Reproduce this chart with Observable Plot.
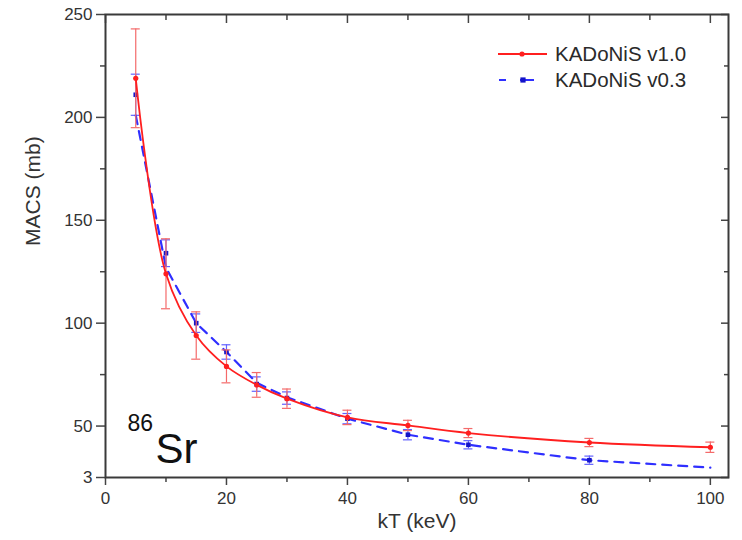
<!DOCTYPE html>
<html><head><meta charset="utf-8">
<script src="https://cdn.jsdelivr.net/npm/d3@7"></script>
<script src="https://cdn.jsdelivr.net/npm/@observablehq/plot@0.6"></script>
<style>
html,body{margin:0;padding:0;background:#fff;}
#wrap{position:relative;width:742px;height:540px;font-family:"Liberation Sans",Arial,sans-serif;}
#legend{position:absolute;left:0;top:0;pointer-events:none;}
</style></head>
<body><div id="wrap"></div>
<script>
// ---- data ----
const kT = [5, 10, 15, 20, 25, 30, 40, 50, 60, 80, 100];
const macsV10 = [219, 124, 94, 79, 70, 63.3, 54.2, 50.3, 46.6, 42, 39.7];
const errV10  = [24, 17, 11.5, 8, 6, 4.7, 3.5, 2.5, 2.2, 2, 2.5];
const macsV03 = [211, 134, 100, 86, 70.4, 63.6, 53.6, 45.8, 40.9, 33.4, null];
const errV03  = [10, 6.5, 4.5, 3.5, 3.5, 3, 2.5, 2.5, 2, 2, null];
const lineV03 = [201, 127, 100, 86, 71, 64, 53.6, 45.8, 40.9, 33.4, 29.8];
const seriesNames = ["KADoNiS v1.0", "KADoNiS v0.3"];
const xMajorTicks = [0, 20, 40, 60, 80, 100];
const xMinorTicks = [10, 30, 50, 70, 90];
const yMajorTicks = [25, 50, 100, 150, 200, 250];
const yMajorLabels = ["3", "50", "100", "150", "200", "250"];
const yMinorTicks = [75, 125, 175, 225];
const xTitle = "kT (keV)";
const yTitle = "MACS (mb)";
const isotopeMass = "86";
const isotopeSymbol = "Sr";

// ---- build ----
const red = "#ff1f1f", redErr = "#f46a6a";
const blue = "#2f2fff", blueMark = "#1414c8", blueErr = "#6262ff";
const v10 = kT.map((x, i) => ({kT: x, v: macsV10[i], e: errV10[i]}));
const v03 = kT.map((x, i) => ({kT: x, v: macsV03[i], e: errV03[i]})).filter(d => d.v != null && d.e != null);
const v03line = kT.map((x, i) => ({kT: x, v: lineV03[i]}));
const yLab = new Map(yMajorTicks.map((t, i) => [t, yMajorLabels[i]]));
const blank = () => "";
const axisStroke = "#444";

function errMarks(data, color, capHalf) {
  return [
    Plot.ruleX(data, {x: "kT", y1: d => d.v - d.e, y2: d => d.v + d.e, stroke: color, strokeWidth: 1.2}),
    Plot.ruleY(data, {y: d => d.v + d.e, x1: "kT", x2: "kT", insetLeft: -capHalf, insetRight: -capHalf, stroke: color, strokeWidth: 1.2}),
    Plot.ruleY(data, {y: d => d.v - d.e, x1: "kT", x2: "kT", insetLeft: -capHalf, insetRight: -capHalf, stroke: color, strokeWidth: 1.2})
  ];
}

const chart = Plot.plot({
  width: 742, height: 540,
  marginLeft: 105, marginRight: 14, marginTop: 14, marginBottom: 63,
  style: {fontFamily: '"Liberation Sans", Arial, sans-serif', fontSize: "17px", color: "#333", background: "#fff"},
  x: {domain: [0, 103]},
  y: {domain: [25, 250]},
  marks: [
    // bottom axis
    Plot.axisX({ticks: xMajorTicks, tickSize: 8, tickPadding: 6, tickFormat: d => String(d), label: null, stroke: axisStroke, strokeWidth: 1.5, fill: "#333"}),
    Plot.axisX({ticks: xMinorTicks, tickSize: 5, tickFormat: blank, label: null, stroke: axisStroke, strokeWidth: 1.5}),
    // left axis
    Plot.axisY({ticks: yMajorTicks, tickSize: 9, tickPadding: 4, tickFormat: d => yLab.get(d), label: null, stroke: axisStroke, strokeWidth: 1.5, fill: "#333"}),
    Plot.axisY({ticks: yMinorTicks, tickSize: 5, tickFormat: blank, label: null, stroke: axisStroke, strokeWidth: 1.5}),
    // top axis (inward)
    Plot.axisX({anchor: "top", ticks: xMajorTicks, tickSize: 8, dy: 8, tickFormat: blank, label: null, stroke: axisStroke, strokeWidth: 1.5}),
    Plot.axisX({anchor: "top", ticks: xMinorTicks, tickSize: 5, dy: 5, tickFormat: blank, label: null, stroke: axisStroke, strokeWidth: 1.5}),
    // right axis (inward)
    Plot.axisY({anchor: "right", ticks: yMajorTicks, tickSize: 8, dx: -8, tickFormat: blank, label: null, stroke: axisStroke, strokeWidth: 1.5}),
    Plot.axisY({anchor: "right", ticks: yMinorTicks, tickSize: 5, dx: -5, tickFormat: blank, label: null, stroke: axisStroke, strokeWidth: 1.5}),
    Plot.frame({stroke: "#3a3a3a", strokeWidth: 2}),
    // titles
    Plot.text([xTitle], {frameAnchor: "bottom", dy: 50, fontSize: 21, fill: "#333"}),
    Plot.text([yTitle], {frameAnchor: "left", dx: -72, rotate: -90, fontSize: 21, fill: "#333"}),
    // isotope label
    Plot.text([isotopeMass], {frameAnchor: "bottom-left", dx: 22, dy: -63, lineAnchor: "top", textAnchor: "start", fontSize: 23, fill: "#111"}),
    Plot.text([isotopeSymbol], {frameAnchor: "bottom-left", dx: 50, dy: -15, lineAnchor: "bottom", textAnchor: "start", fontSize: 42, fill: "#111"}),
    // v0.3 series
    ...errMarks(v03, blueErr, 4.5),
    Plot.line(v03line, {x: "kT", y: "v", stroke: blue, strokeWidth: 2.2, strokeDasharray: "9,7"}),
    Plot.dot(v03, {x: "kT", y: "v", symbol: "square", r: 2.6, fill: blueMark, stroke: "none"}),
    // v1.0 series
    ...errMarks(v10, redErr, 4.5),
    Plot.line(v10, {x: "kT", y: "v", stroke: red, strokeWidth: 1.8, curve: "catmull-rom"}),
    Plot.dot(v10, {x: "kT", y: "v", r: 2.6, fill: red, stroke: "none"})
  ]
});

const wrap = document.getElementById("wrap");
wrap.appendChild(chart);

// legend overlay
const ns = "http://www.w3.org/2000/svg";
const lg = document.createElementNS(ns, "svg");
lg.setAttribute("id", "legend");
lg.setAttribute("width", 742); lg.setAttribute("height", 120);
lg.innerHTML = `
  <line x1="498" x2="547" y1="54" y2="54" stroke="${red}" stroke-width="1.8"/>
  <circle cx="522" cy="54" r="2.6" fill="${red}"/>
  <text x="555" y="54" dy="0.36em" font-size="20.5" fill="#2a2a2a" font-family='"Liberation Sans", Arial, sans-serif'>${seriesNames[0]}</text>
  <line x1="499" x2="547" y1="80" y2="80" stroke="${blue}" stroke-width="2.2" stroke-dasharray="7,14,14,100"/>
  <rect x="520.4" y="77.4" width="5.2" height="5.2" fill="${blueMark}"/>
  <text x="555" y="80" dy="0.36em" font-size="20.5" fill="#2a2a2a" font-family='"Liberation Sans", Arial, sans-serif'>${seriesNames[1]}</text>`;
wrap.appendChild(lg);
</script>
</body></html>
